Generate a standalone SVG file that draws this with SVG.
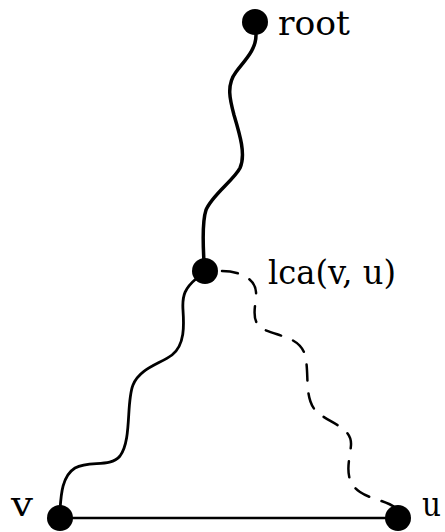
<svg xmlns="http://www.w3.org/2000/svg" width="445" height="532" viewBox="0 0 445 532">
<style>
.node{fill:#000}
.lbl{font-family:"DejaVu Serif","Liberation Serif",serif;font-size:34px;fill:#000}
.edge{fill:none;stroke:#000;stroke-linecap:round}
</style>
<rect width="445" height="532" fill="#fff"/>
<g id="connectors">
<path class="edge" stroke-width="3.5" d="M256,35 C256,50 245,60 236,72 C226,85 230,100 234,115 C240,135 246,155 240,168 C234,180 212,195 206,210 C202,222 203,245 204,262"/>
<path class="edge" stroke-width="2.8" d="M197,278 C185,288 182,295 183,310 C184,325 185,345 172,355 C160,364 140,368 133,385 C126,402 132,440 120,456 C110,468 90,460 75,468 C62,476 61,495 60,510"/>
<path class="edge" stroke-width="2.5" stroke-dasharray="16 13" stroke-linecap="butt" d="M222,271 C235,271 255,276 256,292 C257,305 248,322 265,330 C282,337 300,338 305,355 C310,375 303,400 318,413 C332,424 352,428 351,445 C350,460 342,480 360,492 C372,500 385,500 396,508"/>
<line class="edge" stroke-width="2.5" x1="60" y1="518" x2="398" y2="518"/>
</g>
<g id="root"><circle class="node" cx="255" cy="22" r="13"/><text class="lbl" x="278" y="35" textLength="72" lengthAdjust="spacingAndGlyphs">root</text></g>
<g id="lca"><circle class="node" cx="205" cy="271" r="13"/><text class="lbl" x="268" y="284" textLength="128" lengthAdjust="spacingAndGlyphs">lca(v, u)</text></g>
<g id="v"><circle class="node" cx="60" cy="518" r="13"/><text class="lbl" x="11" y="516" textLength="22" lengthAdjust="spacingAndGlyphs">v</text></g>
<g id="u"><circle class="node" cx="398" cy="518" r="13"/><text class="lbl" x="422" y="516" textLength="19" lengthAdjust="spacingAndGlyphs">u</text></g>
</svg>
